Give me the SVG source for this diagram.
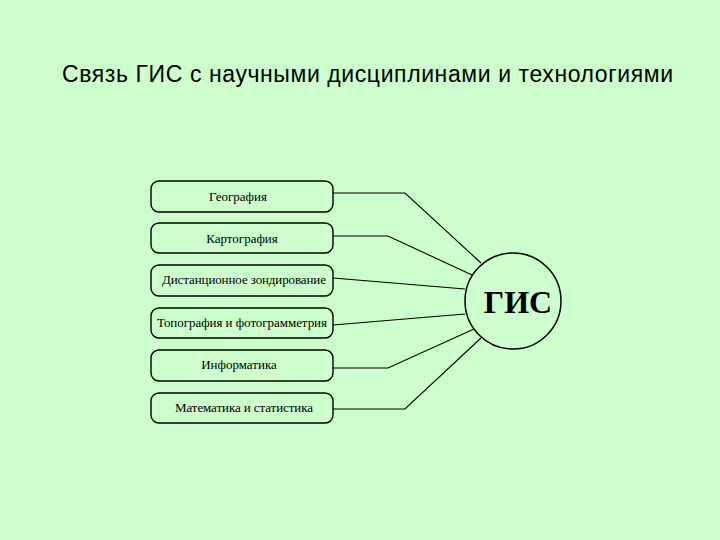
<svg xmlns="http://www.w3.org/2000/svg" width="720" height="540" viewBox="0 0 720 540">
<style>
.box{fill:none;stroke:#000;stroke-width:1.4}
.lbl{font-family:"Liberation Serif","Times New Roman",serif;font-size:13px;fill:#000;text-anchor:middle}
.con{fill:none;stroke:#000;stroke-width:1.1}
</style>
<rect width="720" height="540" fill="#CCFFCC"/>
<text x="62" y="82" font-family="Liberation Sans, Arial, sans-serif" font-size="23" fill="#000" textLength="611">Связь ГИС с научными дисциплинами и технологиями</text>
<g id="connectors">
<polyline class="con" points="333,193 405,193 481,263"/>
<polyline class="con" points="333,236 388,236 472,275"/>
<polyline class="con" points="333,278 465,289"/>
<polyline class="con" points="333,325 465,314"/>
<polyline class="con" points="333,368 388,368 474,329"/>
<polyline class="con" points="333,409 405,409 481,338"/>
</g>
<g id="n1"><rect class="box" x="151" y="181" width="182" height="31" rx="8"/><text class="lbl" x="238" y="201">География</text></g>
<g id="n2"><rect class="box" x="151" y="223" width="182" height="30" rx="8"/><text class="lbl" x="242" y="243">Картография</text></g>
<g id="n3"><rect class="box" x="151" y="265" width="182" height="31" rx="8"/><text class="lbl" x="244" y="284" textLength="164">Дистанционное зондирование</text></g>
<g id="n4"><rect class="box" x="151" y="308" width="182" height="30" rx="8"/><text class="lbl" x="242" y="327" textLength="170">Топография и фотограмметрия</text></g>
<g id="n5"><rect class="box" x="151" y="350" width="182" height="31" rx="8"/><text class="lbl" x="239" y="369">Информатика</text></g>
<g id="n6"><rect class="box" x="151" y="393" width="182" height="30" rx="8"/><text class="lbl" x="244" y="412" textLength="138">Математика и статистика</text></g>
<g id="gis"><circle cx="513" cy="301" r="48" fill="none" stroke="#000" stroke-width="1.5"/><text x="518" y="313" font-family="Liberation Serif, Times New Roman, serif" font-weight="bold" font-size="32" text-anchor="middle" fill="#000">ГИС</text></g>
</svg>
